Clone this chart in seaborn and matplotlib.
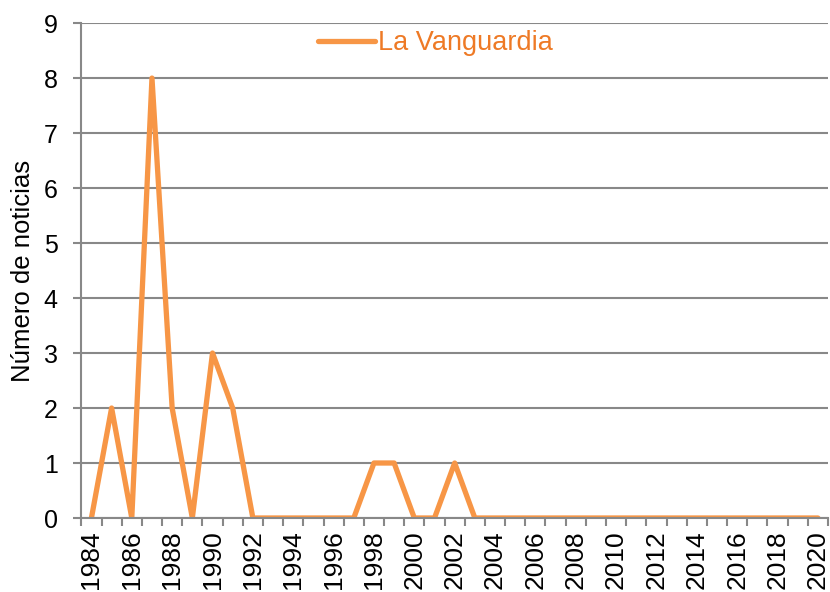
import numpy as np
import pandas as pd
import matplotlib
matplotlib.use("Agg")
import matplotlib.pyplot as plt
import seaborn as sns

# -------------------------------
# Data
# -------------------------------
years = list(range(1984, 2021))
noticias = [0, 2, 0, 8, 2, 0, 3, 2, 0, 0,
            0, 0, 0, 0, 1, 1, 0, 0, 1, 0,
            0, 0, 0, 0, 0, 0, 0, 0, 0, 0,
            0, 0, 0, 0, 0, 0, 0]
series_name = "La Vanguardia"
line_color = "#F79646"
legend_text_color = "#EE7A26"
grid_color = "#888888"

df = pd.DataFrame({"pos": np.arange(len(years)), "year": years, "n": noticias})

# -------------------------------
# Plot
# -------------------------------
sns.set_style("white")
plt.rcParams['font.family'] = ['Liberation Sans', 'DejaVu Sans']
plt.rcParams['text.color'] = 'black'
plt.rcParams['xtick.labelcolor'] = 'black'
plt.rcParams['ytick.labelcolor'] = 'black'
plt.rcParams['axes.labelcolor'] = 'black'

fig = plt.figure(figsize=(8.3, 5.92), dpi=100)
ax = fig.add_axes([0.098, 0.125, 0.8996, 0.836])

sns.lineplot(data=df, x="pos", y="n", ax=ax, color=line_color,
             linewidth=3.8, label=series_name)

ax.set_xlim(-0.5, len(years) - 0.5)
ax.set_ylim(0, 9)
ax.set_yticks(range(0, 10))
ax.yaxis.grid(True, color=grid_color, linewidth=1.5)
ax.set_axisbelow(True)

# category labels every other year, tick marks at category borders
ax.set_xticks(df["pos"][::2])
ax.set_xticklabels(df["year"][::2], rotation=90)
ax.set_xticks(np.arange(-0.5, len(years)), minor=True)
ax.tick_params(axis="x", which="major", length=0, labelsize=19, pad=9)
ax.tick_params(axis="x", which="minor", length=6, width=1.5, color=grid_color,
               direction="out", bottom=True)
ax.tick_params(axis="y", length=6, width=1.5, color=grid_color,
               direction="out", left=True, labelsize=18, pad=11)

for side in ["top", "right"]:
    ax.spines[side].set_visible(False)
for side in ["left", "bottom"]:
    ax.spines[side].set_color(grid_color)
    ax.spines[side].set_linewidth(1.5)

ax.set_xlabel("")
ax.set_ylabel("Número de noticias", fontsize=18.5, labelpad=6)

leg = ax.legend(loc="upper center", bbox_to_anchor=(0.474, 1.035), frameon=False,
                fontsize=19.5, handlelength=2.1, handletextpad=0.1)
for t in leg.get_texts():
    t.set_color(legend_text_color)

fig.savefig("out.png", dpi=100)
